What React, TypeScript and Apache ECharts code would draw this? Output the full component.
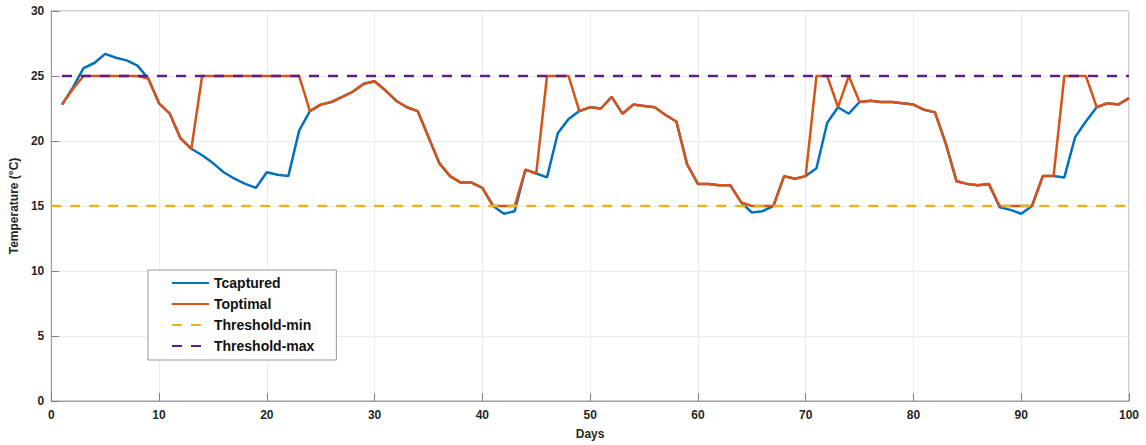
import React, { useEffect, useRef } from "react";
import * as echarts from "echarts";

const days: number[] = Array.from({ length: 100 }, (_, i) => i + 1);

const tCaptured: number[] = [
  22.8, 24.1, 25.6, 26.0, 26.7, 26.4, 26.2, 25.8, 24.8, 22.9,
  22.1, 20.2, 19.4, 18.9, 18.3, 17.6, 17.1, 16.7, 16.4, 17.6,
  17.4, 17.3, 20.8, 22.3, 22.8, 23.0, 23.4, 23.8, 24.4, 24.6,
  23.9, 23.1, 22.6, 22.3, 20.3, 18.3, 17.3, 16.8, 16.8, 16.4,
  15.0, 14.4, 14.6, 17.8, 17.5, 17.2, 20.6, 21.7, 22.3, 22.6,
  22.5, 23.4, 22.1, 22.8, 22.7, 22.6, 22.0, 21.5, 18.2, 16.7,
  16.7, 16.6, 16.6, 15.3, 14.5, 14.6, 15.0, 17.3, 17.1, 17.3,
  17.9, 21.4, 22.6, 22.1, 23.0, 23.1, 23.0, 23.0, 22.9, 22.8,
  22.4, 22.2, 19.8, 16.9, 16.7, 16.6, 16.7, 14.9, 14.7, 14.4,
  15.0, 17.3, 17.3, 17.2, 20.3, 21.5, 22.6, 22.9, 22.8, 23.3,
];

const tOptimal: number[] = [
  22.8, 24.0, 25.0, 25.0, 25.0, 25.0, 25.0, 25.0, 24.8, 22.9,
  22.1, 20.2, 19.4, 25.0, 25.0, 25.0, 25.0, 25.0, 25.0, 25.0,
  25.0, 25.0, 25.0, 22.3, 22.8, 23.0, 23.4, 23.8, 24.4, 24.6,
  23.9, 23.1, 22.6, 22.3, 20.3, 18.3, 17.3, 16.8, 16.8, 16.4,
  15.0, 15.0, 15.0, 17.8, 17.5, 25.0, 25.0, 25.0, 22.3, 22.6,
  22.5, 23.4, 22.1, 22.8, 22.7, 22.6, 22.0, 21.5, 18.2, 16.7,
  16.7, 16.6, 16.6, 15.3, 15.0, 15.0, 15.0, 17.3, 17.1, 17.3,
  25.0, 25.0, 22.6, 25.0, 23.0, 23.1, 23.0, 23.0, 22.9, 22.8,
  22.4, 22.2, 19.8, 16.9, 16.7, 16.6, 16.7, 15.0, 15.0, 15.0,
  15.0, 17.3, 17.3, 25.0, 25.0, 25.0, 22.6, 22.9, 22.8, 23.3,
];

const thresholdMin: number[][] = [[0, 15], [100, 15]];
const thresholdMax: number[][] = [[1, 25], [100, 25]];

const seriesNames = ["Tcaptured", "Toptimal", "Threshold-min", "Threshold-max"];
const colors = ["#0072BD", "#D95319", "#E6B41C", "#5E2080"];

export default function App() {
  const ref = useRef<HTMLDivElement>(null);
  useEffect(() => {
    if (!ref.current) return;
    const chart = echarts.init(ref.current, null, { renderer: "svg" });
    const pair = (arr: number[]) => days.map((d, i) => [d, arr[i]]);
    const axisFont = { fontFamily: "Liberation Sans, Arial, sans-serif", fontWeight: "bold" as const, fontSize: 12, color: "#262626" };
    chart.setOption({
      animation: false,
      backgroundColor: "#fff",
      grid: {
        left: 49, right: 17, top: 11, bottom: 44,
        show: true, borderColor: "#a0a0a0", borderWidth: 1, backgroundColor: "#fff",
      },
      legend: {
        orient: "vertical",
        left: 148, top: 270,
        data: seriesNames,
        itemWidth: 37, itemHeight: 16, itemGap: 7,
        padding: [6, 22, 7, 23],
        borderColor: "#999", borderWidth: 1, backgroundColor: "#fff",
        itemStyle: { opacity: 0 },
        textStyle: { fontFamily: "Liberation Sans, Arial, sans-serif", fontWeight: "bold", fontSize: 14, color: "#111" },
      },
      xAxis: {
        type: "value", min: 0, max: 100, interval: 10,
        name: "Days", nameLocation: "middle", nameGap: 27,
        nameTextStyle: { ...axisFont, fontSize: 12 },
        axisLine: { show: true, lineStyle: { color: "#a0a0a0" } },
        axisTick: { show: true, inside: true, length: 8, lineStyle: { color: "#808080" } },
        axisLabel: { ...axisFont, margin: 8 },
        splitLine: { show: true, lineStyle: { color: "#ebebeb" } },
      },
      yAxis: {
        type: "value", min: 0, max: 30, interval: 5,
        name: "Temperature (°C)", nameLocation: "middle", nameGap: 25,
        nameTextStyle: { ...axisFont, fontSize: 12 },
        axisLine: { show: true, lineStyle: { color: "#a0a0a0" } },
        axisTick: { show: true, inside: true, length: 8, lineStyle: { color: "#808080" } },
        axisLabel: { ...axisFont, margin: 7 },
        splitLine: { show: true, lineStyle: { color: "#ebebeb" } },
      },
      series: [
        {
          name: seriesNames[0], type: "line", data: pair(tCaptured), symbol: "none",
          lineStyle: { color: colors[0], width: 2.5 }, itemStyle: { color: colors[0] }, z: 2,
        },
        {
          name: seriesNames[1], type: "line", data: pair(tOptimal), symbol: "none",
          lineStyle: { color: colors[1], width: 2.5 }, itemStyle: { color: colors[1] }, z: 3,
        },
        {
          name: seriesNames[2], type: "line", data: thresholdMin, symbol: "none",
          lineStyle: { color: colors[2], width: 2.5, type: [10, 9] }, itemStyle: { color: colors[2] }, z: 4,
        },
        {
          name: seriesNames[3], type: "line", data: thresholdMax, symbol: "none",
          lineStyle: { color: colors[3], width: 2.5, type: [10, 9] }, itemStyle: { color: colors[3] }, z: 4,
        },
      ],
    });
    return () => chart.dispose();
  }, []);
  return <div ref={ref} style={{ position: "fixed", left: 0, top: 0, width: 1146, height: 445 }} />;
}
